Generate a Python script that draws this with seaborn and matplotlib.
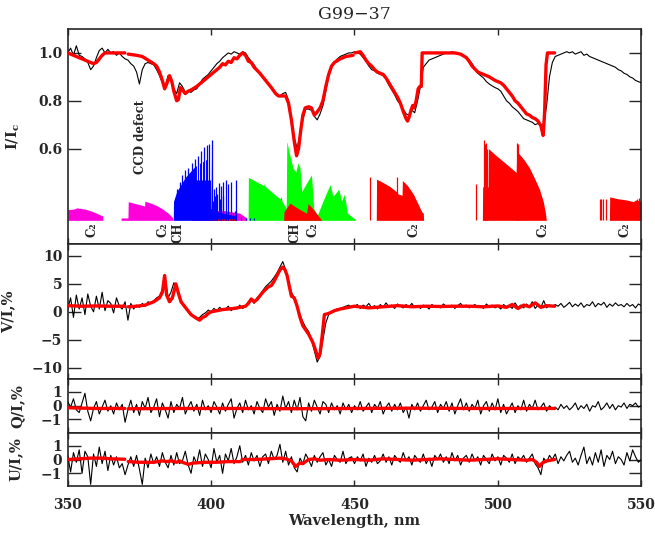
import numpy as np
import pandas as pd
import matplotlib
matplotlib.use('Agg')
import matplotlib.pyplot as plt
import seaborn as sns

# observed spectrum, 1 nm grid
wl = np.arange(350, 551)

obs_I = [
    1.00, 1.02, 0.99, 1.03, 0.99, 0.985, 0.975, 0.96, 0.93, 0.945,
    0.98, 1.01, 1.02, 1.00, 1.015, 1.00, 1.005, 0.99, 1.00, 0.985,
    0.975, 0.97, 0.955, 0.945, 0.92, 0.87, 0.93, 0.955, 0.96, 0.955,
    0.95, 0.93, 0.905, 0.875, 0.86, 0.905, 0.885, 0.85, 0.83, 0.875,
    0.86, 0.835, 0.84, 0.835, 0.845, 0.85, 0.87, 0.89, 0.90, 0.91,
    0.925, 0.94, 0.955, 0.965, 0.98, 0.99, 1.00, 0.995, 1.005, 1.00,
    0.995, 1.005, 1.00, 0.98, 0.965, 0.95, 0.93, 0.915, 0.90, 0.885,
    0.87, 0.855, 0.84, 0.825, 0.82, 0.83, 0.835, 0.80, 0.73, 0.645,
    0.60, 0.66, 0.72, 0.765, 0.765, 0.76, 0.735, 0.72, 0.745, 0.78,
    0.84, 0.905, 0.94, 0.96, 0.975, 0.985, 0.99, 0.995, 1.00, 1.00,
    1.005, 1.00, 0.995, 0.98, 0.965, 0.945, 0.93, 0.925, 0.915, 0.91,
    0.905, 0.89, 0.865, 0.845, 0.825, 0.80, 0.785, 0.765, 0.745, 0.74,
    0.76, 0.75, 0.80, 0.86, 0.94, 0.955, 0.97, 0.975, 0.98, 0.985,
    0.99, 0.995, 1.00, 1.00, 1.005, 1.00, 1.00, 0.995, 0.99, 0.985,
    0.97, 0.955, 0.935, 0.915, 0.905, 0.895, 0.88, 0.87, 0.862, 0.855,
    0.85, 0.84, 0.82, 0.80, 0.79, 0.775, 0.765, 0.755, 0.74, 0.725,
    0.72, 0.715, 0.71, 0.70, 0.705, 0.695, 0.70, 0.78, 0.90, 0.96,
    0.985, 0.99, 0.995, 1.00, 1.005, 1.00, 1.005, 0.995, 1.00, 1.005,
    0.99, 0.995, 0.985, 0.98, 0.975, 0.97, 0.965, 0.96, 0.955, 0.95,
    0.945, 0.94, 0.93, 0.925, 0.915, 0.91, 0.90, 0.895, 0.885, 0.88,
    0.875]

obs_V = [
    0.5, 2.5, -1.0, 3.0, 0.5, 2.5, -0.5, 3.2, 1.0, 0.0,
    2.8, 0.5, 3.5, 0.2, 2.0, 1.5, -0.2, 2.5, 1.0, 0.5,
    1.8, -1.5, 1.5, 0.5, 1.2, 0.8, 1.5, 1.0, 1.8, 1.5,
    2.0, 2.5, 2.8, 4.0, 6.0, 2.5, 3.5, 5.2, 4.5, 2.8,
    1.5, 1.0, 0.0, -0.5, -1.0, -1.3, -1.0, -0.5, -0.2, 0.3,
    0.0, 0.6, 0.2, 0.8, 0.3, 0.5, 1.0, 0.2, 0.8, 0.5,
    1.2, 0.6, 1.0, 1.8, 2.2, 1.5, 2.5, 3.0, 3.8, 4.5,
    5.0, 5.5, 6.2, 7.0, 8.0, 9.0, 7.5, 5.5, 3.5, 2.5,
    1.0, -0.5, -1.8, -2.8, -3.5, -5.0, -7.0, -9.0, -8.0, -5.0,
    -2.0, -0.5, 0.0, 0.3, 0.5, 0.6, 0.8, 1.0, 1.2, 0.8,
    1.0, 1.3, 0.6, 1.2, 0.9, 1.5, 0.7, 1.1, 0.5, 1.3,
    0.8, 1.6, 0.9, 1.2, 0.6, 1.4, 1.0, 0.7, 1.3, 0.9,
    1.5, 0.8, 1.1, 0.6, 1.2, 1.0, 0.5, 1.3, 0.9, 1.1,
    0.7, 1.4, 1.0, 0.8, 1.2, 0.6, 1.1, 1.5, 0.9, 1.2,
    0.7, 1.0, 1.3, 0.8, 1.1, 0.6, 1.4, 0.9, 1.2, 0.7,
    1.0, 0.5, 1.3, 0.9, 1.1, 0.6, 1.6, 0.8, 1.2, 0.7,
    1.4, 0.9, 1.8, 0.6, 1.2, 0.8, 2.0, 0.7, 1.2, 0.9,
    1.3, 1.0, 1.5, 0.8, 1.2, 1.7, 0.9, 1.4, 1.0, 1.6,
    0.8, 1.3, 1.1, 1.8, 0.9, 1.5, 1.2, 1.7, 0.8, 1.4,
    1.0, 1.6, 1.1, 1.3, 0.9, 1.5, 1.0, 1.3, 0.7, 1.4,
    1.1]

obs_Q = [
    0.3, -0.1, 0.5, -0.3, -0.5, 0.2, 0.9, -0.4, -1.1, -0.2, 0.3, -0.6, -0.1, 0.4, -0.4, 0.0, -0.6, 0.2, -0.3, 0.1,
    -1.2, -0.3, 0.4, -0.5, 0.1, -0.7, 0.3, -0.2, 0.6, -0.5, -0.1, 0.5, -0.8, 0.2, -0.3, -0.9, 0.3, -0.5, 0.1, -0.2,
    0.6, -0.6, -0.1, 0.3, -0.4, 0.1, -0.7, 0.4, -0.3, 0.0, -0.5, 0.3, -0.1, -0.6, 0.2, -0.4, 0.1, 0.5, -0.9, -0.2,
    0.2, -0.5, 0.4, -0.3, 0.0, -0.6, 0.3, -0.2, -0.5, 0.5, -0.1, 0.3, -0.7, 0.1, -0.4, 0.7, -0.2, 0.3, -0.5, 0.4,
    -0.3, 0.6, -0.8, -1.1, 0.2, -0.4, 0.4, -0.1, -0.6, 0.3, 0.1, -0.5, 0.2, -0.3, 0.0, -0.6, 0.2, -0.3, 0.1, -0.5,
    0.0, -0.3, 0.3, -0.4, -0.1, 0.2, -0.5, 0.1, -0.2, 0.3, -0.6, -0.1, 0.2, -0.4, 0.1, -0.3, 0.2, -0.5, -0.1, -0.9,
    0.1, -0.3, 0.2, -0.4, 0.0, 0.4, -0.3, -0.1, 0.3, -0.5, 0.1, -0.2, 0.3, -0.4, 0.2, -0.6, 0.0, 0.5, -0.3, 0.2,
    -0.4, 0.1, -0.2, 0.4, -0.6, 0.0, 0.3, -0.4, 0.2, -0.3, 0.5, -0.5, 0.1, -0.6, -0.2, 0.2, -0.5, 0.0, -0.3, 0.4,
    -0.4, 0.1, -0.2, 0.4, -0.3, -0.1, 0.2, -0.4, 0.0, -0.2, -0.1, -0.3, 0.1, -0.2, 0.0, -0.3, -0.1, 0.2, -0.3, 0.0,
    -0.2, 0.1, -0.4, 0.0, -0.1, 0.3, -0.3, -0.1, 0.2, -0.2, 0.1, -0.3, 0.0, -0.1, 0.2, -0.2, 0.1, 0.0, 0.2, -0.1,
    0.0]

obs_U = [
    0.3, -0.9, 0.5, -0.2, 0.7, -1.0, 0.6, 0.2, -1.8, 0.4, -0.5, 0.9, -0.3, 0.6, -0.8, 0.3, -0.4, 0.2, -0.6, -0.3,
    -1.1, -0.4, 0.2, -0.5, 0.3, -0.7, -1.8, 0.1, -0.6, 0.4, -0.3, 0.2, -0.5, 0.5, -0.2, -0.6, 0.3, -0.4, 0.5, -0.3,
    -0.1, 0.6, -0.4, -1.0, 0.2, -0.3, 0.7, -0.5, 0.4, 0.0, -0.6, 0.8, -0.2, 0.3, -1.0, 0.4, -0.1, 0.8, -0.3, 0.2,
    1.0, -0.2, 0.3, -0.4, 0.5, -0.1, 0.3, -0.5, 0.2, 0.4, -0.3, 0.6, 0.0, 0.3, 1.1, -0.2, 0.6, -0.4, 0.2, -0.6,
    -0.9, 0.1, -0.3, 0.4, 0.0, -0.5, 0.3, -0.2, 0.2, 0.5, -0.4, 0.0, -0.5, 0.3, 0.0, -0.2, 0.6, -0.3, 0.1, 0.2,
    -0.3, 0.2, -0.1, 0.4, -0.5, 0.1, -0.2, 0.3, -0.3, -0.1, 0.4, -0.2, 0.2, -0.4, 0.3, 0.0, -0.2, 0.5, -0.1, 0.2,
    -0.4, 0.3, 0.0, -0.2, 0.4, -0.3, 0.1, -0.5, 0.3, 0.0, 0.4, -0.2, 0.2, -0.3, 0.5, -0.1, 0.3, -0.4, 0.1, 0.3,
    -0.2, 0.4, -0.1, 0.2, -0.4, 0.3, 0.0, -0.3, 0.4, -0.1, 0.2, -0.4, 0.3, 0.1, -0.2, 0.4, -0.3, 0.2, 0.0, 0.3,
    -0.2, 0.1, 0.4, -0.3, -0.6, -1.1, 0.1, -0.2, 0.3, 0.0, 0.4, -0.3, 0.2, -0.1, 0.3, 0.6, -0.2, 0.1, -0.4, 0.3,
    0.9, -0.3, 0.2, -0.4, 0.5, -0.2, 0.7, -0.5, 0.3, 0.0, 0.6, -0.3, 0.2, 0.0, -0.4, 0.5, -0.1, 0.7, 0.2, -0.2,
    0.0]

# model fits (red), each segment: (wavelengths, values)
model_I = [
    ([350, 352, 354, 356, 358, 359, 360, 361, 362, 363, 364, 366, 368, 369.9],
     [1.0, 0.99, 0.98, 0.97, 0.96, 0.955, 0.96, 0.975, 0.99, 1.0, 1.0, 1.0, 1.0, 1.0]),
    ([371.1, 374, 376, 378, 380, 381, 382, 383, 383.8, 384.5, 385.5, 386.3, 387, 388, 388.6,
      389.3, 390, 391, 392, 393, 395, 397, 399, 401, 403, 404, 405, 406, 407, 408, 409, 410,
      411, 412, 413, 414, 415, 417, 419, 421, 422.5, 423.5, 426, 427, 428, 429, 429.8, 430.5,
      431.3, 432, 432.8, 434, 435, 436, 436.8, 438, 439, 440, 441, 442, 443, 445, 447, 449.5],
     [0.995, 0.99, 0.985, 0.97, 0.955, 0.945, 0.92, 0.885, 0.85, 0.87, 0.905, 0.88, 0.84, 0.80, 0.805,
      0.855, 0.845, 0.83, 0.84, 0.845, 0.86, 0.88, 0.90, 0.92, 0.94, 0.955, 0.95, 0.965, 0.96, 0.98, 0.975, 0.99,
      1.0, 0.99, 0.965, 0.96, 0.94, 0.915, 0.885, 0.855, 0.83, 0.82, 0.82, 0.79, 0.72, 0.63, 0.57, 0.60,
      0.68, 0.74, 0.77, 0.775, 0.77, 0.74, 0.75, 0.77, 0.80, 0.86, 0.91, 0.945, 0.96, 0.975, 0.985, 0.99]),
    ([450.2, 452, 453, 454, 455, 456, 457, 458, 459, 460, 461, 462, 463, 464, 465, 466, 467, 468,
      468.5, 469, 469.7, 470.3, 470.8, 471.5, 472.2, 472.8, 473.3, 473.6, 475, 480, 485, 487, 489,
      490, 491, 493, 495, 497, 499, 501, 502, 503, 504, 505, 506, 507, 508, 509, 510, 511, 512,
      513, 514, 515, 515.8, 516.3, 516.8, 517.3, 519.8],
     [1.0, 1.005, 0.99, 0.97, 0.955, 0.945, 0.93, 0.92, 0.915, 0.91, 0.895, 0.875, 0.855, 0.835, 0.815, 0.79, 0.755, 0.725,
      0.715, 0.73, 0.76, 0.78, 0.77, 0.80, 0.85, 0.86, 0.86, 1.0, 1.0, 1.0, 1.0, 0.995, 0.98,
      0.965, 0.945, 0.92, 0.91, 0.90, 0.885, 0.875, 0.865, 0.85, 0.835, 0.82, 0.80, 0.79, 0.775, 0.76, 0.745, 0.74, 0.73,
      0.725, 0.715, 0.695, 0.655, 0.75, 0.95, 1.0, 1.0]),
]

model_V = [
    ([350, 355, 360, 365, 369.9], [1.1, 1.0, 1.05, 1.0, 1.0]),
    ([371.1, 374, 377, 380, 382, 383, 383.8, 384.5, 385.5, 386.5, 387.7, 388.5, 389.5, 391, 393,
      395, 396, 397, 398, 399, 400, 402, 404, 406, 408, 410, 412, 413, 414, 415, 416, 418, 420,
      421, 422, 423, 424, 425, 425.8, 426.5, 427.5, 428, 429, 430, 431, 432, 434, 435.5, 436.5,
      437.3, 438, 438.8, 439.5, 441, 443, 445, 448, 450, 455, 460, 465, 470, 475, 480, 485, 490,
      495, 500, 503, 505, 507, 509, 511, 513, 515, 517, 519.8],
     [0.9, 1.0, 1.2, 1.8, 2.5, 3.5, 6.5, 3.0, 1.8, 2.5, 5.0, 3.5, 1.8, 0.8, -0.5,
      -1.2, -1.5, -1.0, -0.8, -0.3, 0.0, 0.2, 0.4, 0.5, 0.6, 0.8, 1.0, 1.5, 2.3, 1.8, 2.2, 3.5, 4.5,
      4.7, 5.5, 6.5, 7.5, 8.0, 7.5, 6.5, 4.0, 2.8, 2.5, 1.0, -1.0, -2.5, -4.0, -5.5, -7.0,
      -8.3, -7.5, -4.0, -0.5, -0.3, 0.2, 0.5, 0.8, 1.0, 0.7, 0.9, 1.1, 0.9, 1.0, 0.95, 1.0, 1.0,
      0.9, 1.05, 0.8, 1.3, 0.6, 1.2, 0.9, 1.6, 0.8, 1.1, 1.0]),
]

model_Q = [
    ([350, 360, 369.9], [-0.15, -0.2, -0.2]),
    ([371.1, 390, 410, 430, 449.5], [-0.22, -0.2, -0.2, -0.22, -0.2]),
    ([450.2, 470, 490, 510, 519.8], [-0.2, -0.18, -0.2, -0.2, -0.2]),
]

model_U = [
    ([350, 354, 358, 362, 365, 369.9], [0.0, 0.05, 0.1, 0.1, 0.05, 0.02]),
    ([371.1, 375, 380, 383, 384.5, 386, 388, 389, 390, 392, 394, 398, 402, 406, 410.2],
     [-0.15, -0.2, -0.2, -0.1, -0.15, -0.1, -0.2, -0.1, -0.2, -0.35, -0.25, -0.2, -0.2, -0.15, -0.15]),
    ([410.8, 415, 420, 424, 426, 428, 429.5, 431, 432, 434, 436, 438, 441, 445, 449.5],
     [0.0, 0.0, 0.05, 0.1, 0.05, -0.1, -0.5, -0.25, -0.3, 0.0, 0.05, -0.05, 0.0, -0.05, 0.0]),
    ([450.2, 455, 460, 465, 470, 475, 480, 485, 490, 495, 500, 505, 510, 512, 513.5, 514.5,
      515.5, 517, 519.8],
     [0.0, -0.05, 0.05, 0.0, -0.05, 0.0, 0.05, 0.0, -0.05, 0.0, 0.05, 0.0, -0.05, 0.0, -0.2, -0.5,
      -0.25, -0.1, 0.0]),
]

# molecular line strengths drawn under the intensity spectrum (baseline 0.3)
base = 0.3
mag1_wl = [350, 352, 353.2, 354.5, 356, 358, 360, 361.5, 362.2, 362.3]
mag1_h = [0.345, 0.347, 0.352, 0.35, 0.347, 0.34, 0.33, 0.322, 0.318, 0.30]
mag2_wl = [368.6, 371.0, 371.1, 373, 375, 376.8, 376.9, 379, 381, 383, 385, 386.5, 386.8]
mag2_h = [0.31, 0.31, 0.378, 0.372, 0.366, 0.36, 0.38, 0.372, 0.362, 0.348, 0.33, 0.312, 0.30]
mag3_wl = [393, 400, 405, 410, 412.4, 412.5]
mag3_h = [0.34, 0.342, 0.34, 0.33, 0.31, 0.30]
blue_wl = [386.8, 386.9, 388, 389.5, 391, 392.5, 394, 395.5, 397, 398.5, 399.8, 400.0, 401, 404, 408, 409]
blue_h = [0.30, 0.38, 0.42, 0.45, 0.48, 0.50, 0.52, 0.535, 0.545, 0.555, 0.56, 0.35, 0.34, 0.33, 0.32, 0.30]
blue_gap_wl = [395.0, 395.9, 396.9, 397.9, 398.9, 399.6]
blue_spk_wl = [388.0, 389.0, 390.0, 391.0, 392.1, 393.2, 394.3, 395.4, 396.5, 397.6, 398.6, 399.3, 400.2,
               401.0, 401.8, 402.6, 403.5, 404.3, 405.2, 406.0, 406.9, 408.6,
               400.6, 401.4, 402.2, 403.0, 404.0, 407.5, 408.2, 410.5, 412.0, 413.5, 415.0]
blue_spk_h = [0.43, 0.46, 0.49, 0.51, 0.52, 0.54, 0.555, 0.57, 0.59, 0.605, 0.615, 0.62, 0.635,
              0.43, 0.44, 0.455, 0.445, 0.46, 0.47, 0.45, 0.46, 0.47,
              0.38, 0.40, 0.41, 0.39, 0.40, 0.33, 0.34, 0.315, 0.31, 0.31, 0.31]
green_wl = [412.9, 413.0, 416, 418.4, 418.5, 418.7, 420, 424, 424.5, 424.7, 426.2, 426.4, 427.5,
            428.5, 429.5, 430.3, 431.0, 431.6, 433, 435, 435.8, 437, 439, 441.5, 442.5, 444.5,
            445.5, 446.5, 447.5, 450.2, 450.3]
green_h = [0.30, 0.48, 0.46, 0.445, 0.455, 0.445, 0.43, 0.39, 0.40, 0.38, 0.35, 0.63, 0.57,
           0.52, 0.50, 0.54, 0.52, 0.42, 0.45, 0.49, 0.35, 0.32, 0.38, 0.45, 0.40, 0.43,
           0.38, 0.41, 0.33, 0.305, 0.30]
red1_wl = [425.3, 425.4, 426.5, 427.5, 429, 431, 433.3, 433.8, 435, 437, 438.6]
red1_h = [0.30, 0.335, 0.355, 0.372, 0.36, 0.345, 0.33, 0.37, 0.355, 0.325, 0.30]
red0_wl = [400.5, 401, 408, 409]
red0_h = [0.30, 0.307, 0.307, 0.30]
red2_wl = [457.6, 457.7, 460, 462.5, 464.6, 465.2, 466.6, 466.7, 468.5, 470.5, 472.5, 473.5, 474.0, 474.1]
red2_h = [0.30, 0.472, 0.458, 0.44, 0.42, 0.41, 0.405, 0.467, 0.445, 0.41, 0.36, 0.335, 0.33, 0.30]
red3_wl = [494.6, 494.7, 496.6, 496.7, 499, 501.5, 504, 506.4, 506.6, 509, 511, 513, 514.5,
           515.8, 516.6, 516.9]
red3_h = [0.30, 0.44, 0.44, 0.60, 0.575, 0.55, 0.525, 0.50, 0.59, 0.555, 0.52, 0.47, 0.43,
          0.38, 0.33, 0.30]
red4_wl = [538.9, 539.0, 542, 545, 547.2, 548, 550]
red4_h = [0.30, 0.398, 0.39, 0.385, 0.378, 0.385, 0.38]
red_spk_wl = [455.4, 464.8, 492.4, 495.0, 495.4, 495.9, 496.3, 506.5, 506.9,
              535.6, 536.1, 536.8, 537.6, 548.5, 549.3]
red_spk_h = [0.48, 0.48, 0.451, 0.634, 0.62, 0.625, 0.60, 0.625, 0.62,
             0.388, 0.388, 0.388, 0.388, 0.39, 0.392]

band_labels = ['C₂', 'C₂', 'CH', 'CH', 'C₂', 'C₂', 'C₂', 'C₂']
band_label_wl = [358.5, 383.3, 388.3, 429.3, 435.4, 470.6, 515.7, 544.4]


def segments_frame(segs):
    rows = []
    for k, (x, y) in enumerate(segs):
        for xi, yi in zip(x, y):
            rows.append((k, xi, yi))
    return pd.DataFrame(rows, columns=['seg', 'wl', 'val'])


sns.set_style('ticks')
plt.rcParams['font.family'] = ['DejaVu Serif']
plt.rcParams['font.weight'] = 'bold'
plt.rcParams['mathtext.fontset'] = 'custom'
plt.rcParams['mathtext.rm'] = 'DejaVu Serif:bold'
plt.rcParams['mathtext.it'] = 'DejaVu Serif:bold'
plt.rcParams['mathtext.default'] = 'rm'

fig, axes = plt.subplots(4, 1, sharex=True, figsize=(6.55, 5.34), dpi=100,
                         gridspec_kw={'height_ratios': [4, 2.5, 1, 1], 'hspace': 0})
fig.subplots_adjust(left=0.1034, right=0.979, top=0.9457, bottom=0.0891)

obs = pd.DataFrame({'wl': wl, 'I': obs_I, 'V': obs_V, 'Q': obs_Q, 'U': obs_U})

# --- intensity panel
ax = axes[0]
fills = [(mag1_wl, mag1_h, '#ff00dd'), (mag2_wl, mag2_h, '#ff00dd'), (mag3_wl, mag3_h, '#ff00dd'),
         (blue_wl, blue_h, '#0000ff'), (green_wl, green_h, '#00ff00'), (red0_wl, red0_h, '#ff0000'),
         (red1_wl, red1_h, '#ff0000'), (red2_wl, red2_h, '#ff0000'), (red3_wl, red3_h, '#ff0000'),
         (red4_wl, red4_h, '#ff0000')]
for x, h, c in fills:
    ax.fill_between(x, base, h, color=c, lw=0, zorder=1)
# white slits between the strongest blue lines
ax.vlines(blue_gap_wl, 0.47, 0.57, color='white', lw=0.8, zorder=1.5)
ax.vlines(blue_spk_wl, base, blue_spk_h, color='#0000ff', lw=0.9, zorder=2)
ax.vlines(red_spk_wl, base, red_spk_h, color='#ff0000', lw=0.9, zorder=2)
for lab, x in zip(band_labels, band_label_wl):
    ax.text(x, 0.292, lab, rotation=90, ha='center', va='top', fontsize=8.5, fontweight='bold')
ax.text(375.3, 0.65, 'CCD defect', rotation=90, ha='center', va='center', fontsize=8.5,
        fontweight='bold')

sns.lineplot(data=obs, x='wl', y='I', color='black', lw=0.8, ax=ax, zorder=3)
sns.lineplot(data=segments_frame(model_I), x='wl', y='val', units='seg', estimator=None,
             sort=False, color='red', lw=2.4, ax=ax, zorder=4)
ax.set_ylim(0.2, 1.1)
ax.set_yticks([0.6, 0.8, 1.0])
ax.set_yticklabels(['0.6', '0.8', '1.0'])
ax.set_ylabel('I/I$_c$', fontsize=10.5, fontweight='bold')
ax.yaxis.set_label_coords(-0.080, 0.5)
ax.set_title('G99−37', fontsize=12.5, fontweight='normal', pad=7)

# --- V panel
ax = axes[1]
sns.lineplot(data=obs, x='wl', y='V', color='black', lw=0.8, ax=ax, zorder=3)
sns.lineplot(data=segments_frame(model_V), x='wl', y='val', units='seg', estimator=None,
             sort=False, color='red', lw=2.4, ax=ax, zorder=4)
ax.set_ylim(-12, 12.1)
ax.set_yticks([-10, -5, 0, 5, 10])
ax.set_yticklabels(['−10', '−5', '0', '5', '10'])
ax.set_ylabel('V/I,%', fontsize=10.5, fontweight='bold')
ax.yaxis.set_label_coords(-0.092, 0.5)

# --- Q and U panels
for ax, col, segs, lab, lx in [(axes[2], 'Q', model_Q, 'Q/I,%', -0.076),
                               (axes[3], 'U', model_U, 'U/I,%', -0.078)]:
    sns.lineplot(data=obs, x='wl', y=col, color='black', lw=0.8, ax=ax, zorder=3)
    sns.lineplot(data=segments_frame(segs), x='wl', y='val', units='seg', estimator=None,
                 sort=False, color='red', lw=2.4, ax=ax, zorder=4)
    ax.set_ylim(-1.95, 1.95)
    ax.set_yticks([-1, 0, 1])
    ax.set_yticklabels(['−1', '0', '1'])
    ax.set_ylabel(lab, fontsize=10.5, fontweight='bold')
    ax.yaxis.set_label_coords(lx, 0.5)

for ax in axes:
    ax.set_xlim(350, 550)
    ax.set_xticks([350, 400, 450, 500, 550])
    ax.set_xlabel('')
    ax.tick_params(axis='both', direction='in', top=True, right=True, width=1.0,
                   labelsize=10)
    ax.tick_params(axis='x', length=4.5, pad=8)
    ax.tick_params(axis='y', length=9, pad=4)
    for s in ax.spines.values():
        s.set_linewidth(1.2)
        s.set_visible(True)

axes[3].set_xlabel('Wavelength, nm', fontsize=10.5, fontweight='bold', labelpad=2)

fig.savefig('out.png', dpi=100)
